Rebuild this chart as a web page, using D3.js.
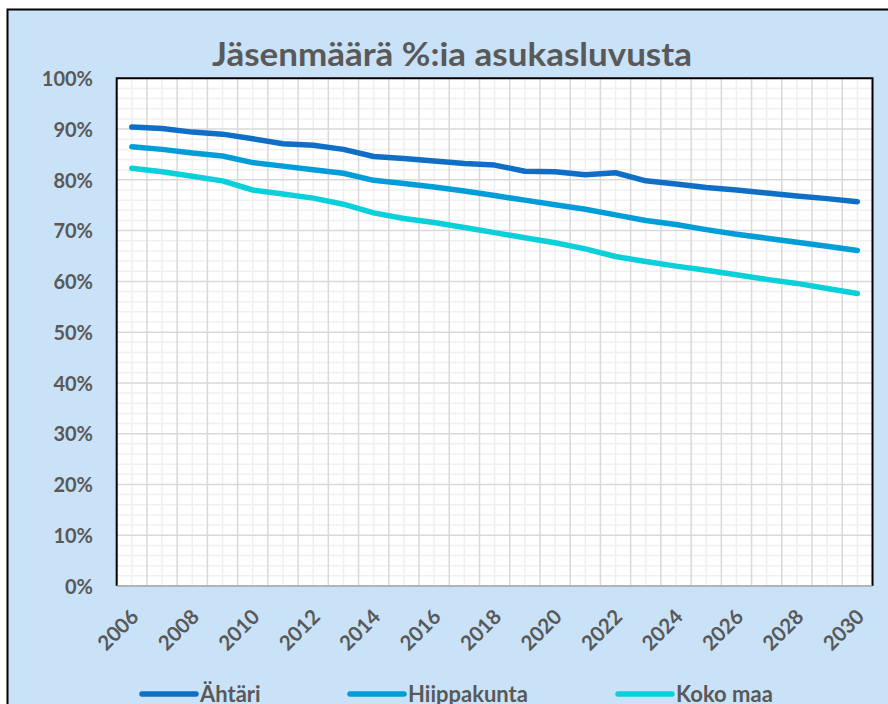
<!DOCTYPE html>
<html>
<head>
<meta charset="utf-8">
<script src="https://cdn.jsdelivr.net/npm/d3@7"></script>
<style>
  body { margin: 0; background: #ffffff; }
  svg text { font-family: Lato, "Open Sans", sans-serif; font-weight: bold; fill: #595959; }
</style>
</head>
<body>
<div id="chart"></div>
<script>

// data (share of population, %)
var years = [2006, 2007, 2008, 2009, 2010, 2011, 2012, 2013, 2014, 2015, 2016, 2017, 2018,
             2019, 2020, 2021, 2022, 2023, 2024, 2025, 2026, 2027, 2028, 2029, 2030];

var ahtari = [90.4, 90.1, 89.4, 89.0, 88.1, 87.1, 86.8, 86.0, 84.6, 84.2, 83.7, 83.2, 82.9,
              81.7, 81.6, 81.0, 81.4, 79.8, 79.2, 78.5, 78.0, 77.4, 76.8, 76.3, 75.7];

var hiippakunta = [86.5, 86.0, 85.3, 84.7, 83.4, 82.7, 82.0, 81.3, 79.9, 79.3, 78.6, 77.8, 76.9,
                   76.0, 75.1, 74.2, 73.1, 72.0, 71.2, 70.2, 69.3, 68.5, 67.7, 66.9, 66.1];

var kokoMaa = [82.3, 81.6, 80.7, 79.8, 78.0, 77.2, 76.4, 75.2, 73.5, 72.4, 71.6, 70.6, 69.6,
               68.6, 67.6, 66.4, 64.9, 63.9, 63.0, 62.2, 61.3, 60.4, 59.6, 58.6, 57.6];

var seriesNames = ["Ähtäri", "Hiippakunta", "Koko maa"];
var seriesColors = ["#0f6fc6", "#009dd9", "#0bd0d9"];
var yTicks = [0, 10, 20, 30, 40, 50, 60, 70, 80, 90, 100];
var xLabels = [2006, 2008, 2010, 2012, 2014, 2016, 2018, 2020, 2022, 2024, 2026, 2028, 2030];
var title = "Jäsenmäärä %:ia asukasluvusta";

var width = 888;
var height = 704;
var plot = { left: 116.7, top: 78.3, right: 872.5, bottom: 586 };

var svg = d3.select("#chart")
    .append("svg")
    .attr("width", width)
    .attr("height", height);

// outer chart area (runs past the right and bottom edge)
svg.append("rect")
    .attr("x", 7.5).attr("y", 9.5)
    .attr("width", 900).attr("height", 720)
    .attr("fill", "#c9e2f8")
    .attr("stroke", "#000").attr("stroke-width", 2);

var x = d3.scaleBand().domain(years).range([plot.left, plot.right]);
var y = d3.scaleLinear().domain([0, 100]).range([plot.bottom, plot.top]);
var cx = function(yr) { return x(yr) + x.bandwidth() / 2; };

// plot area
svg.append("rect")
    .attr("x", plot.left).attr("y", plot.top)
    .attr("width", plot.right - plot.left).attr("height", plot.bottom - plot.top)
    .attr("fill", "#fff");

var grid = svg.append("g");

// minor grid
var minorY = d3.range(0, 101, 2).filter(function(v) { return v % 10 != 0; });
grid.selectAll(".minor-h").data(minorY).enter().append("line")
    .attr("x1", plot.left).attr("x2", plot.right)
    .attr("y1", function(d) { return y(d); }).attr("y2", function(d) { return y(d); })
    .attr("stroke", "#f0f0f0").attr("stroke-width", 1.5);
grid.selectAll(".minor-v").data(years).enter().append("line")
    .attr("x1", cx).attr("x2", cx)
    .attr("y1", plot.top).attr("y2", plot.bottom)
    .attr("stroke", "#f0f0f0").attr("stroke-width", 1.5);

// major grid
grid.selectAll(".major-h").data(yTicks).enter().append("line")
    .attr("x1", plot.left).attr("x2", plot.right)
    .attr("y1", function(d) { return y(d); }).attr("y2", function(d) { return y(d); })
    .attr("stroke", "#d9d9d9").attr("stroke-width", 1.5);
grid.selectAll(".major-v").data(years.slice(1)).enter().append("line")
    .attr("x1", function(d) { return x(d); }).attr("x2", function(d) { return x(d); })
    .attr("y1", plot.top).attr("y2", plot.bottom)
    .attr("stroke", "#d9d9d9").attr("stroke-width", 1.5);

// plot border: black left/top/right, grey axis line at the bottom
svg.append("path")
    .attr("d", "M" + plot.left + "," + plot.bottom + "V" + plot.top + "H" + plot.right + "V" + plot.bottom)
    .attr("fill", "none").attr("stroke", "#000").attr("stroke-width", 2);
svg.append("line")
    .attr("x1", plot.left).attr("x2", plot.right)
    .attr("y1", plot.bottom).attr("y2", plot.bottom)
    .attr("stroke", "#a6a6a6").attr("stroke-width", 1.5);

// lines
var allSeries = [ahtari, hiippakunta, kokoMaa];
var line = d3.line()
    .x(function(d, i) { return cx(years[i]); })
    .y(function(d) { return y(d); });

svg.selectAll(".series").data(allSeries).enter().append("path")
    .attr("d", line)
    .attr("fill", "none")
    .attr("stroke", function(d, i) { return seriesColors[i]; })
    .attr("stroke-width", 5.5)
    .attr("stroke-linecap", "round")
    .attr("stroke-linejoin", "round");

// y axis labels
var yAxis = d3.axisLeft(y).tickValues(yTicks).tickSize(0).tickPadding(0)
    .tickFormat(function(d) { return d + "%"; });
var gy = svg.append("g").attr("transform", "translate(93,0)").call(yAxis);
gy.select(".domain").remove();
gy.selectAll("text").attr("font-size", 20).attr("dy", "0.36em").style("font-family", null);

// x axis labels
var xAxis = d3.axisBottom(x).tickValues(xLabels).tickSize(0).tickPadding(0);
var gx = svg.append("g").attr("transform", "translate(0," + plot.bottom + ")").call(xAxis);
gx.select(".domain").remove();
gx.selectAll("text")
    .attr("font-size", 20.5)
    .attr("text-anchor", "end")
    .attr("y", 0).attr("dy", "0.35em")
    .attr("transform", "translate(3,27) rotate(-45)")
    .style("font-family", null);

// title
svg.append("text")
    .attr("x", 452).attr("y", 66)
    .attr("text-anchor", "middle")
    .attr("font-size", 32)
    .attr("textLength", 480)
    .attr("lengthAdjust", "spacingAndGlyphs")
    .text(title);

// legend
var legendX = [142, 350, 618];
var legend = svg.selectAll(".legend").data(seriesNames).enter().append("g")
    .attr("transform", function(d, i) { return "translate(" + legendX[i] + ",694)"; });
legend.append("line")
    .attr("x1", 0).attr("x2", 54)
    .attr("stroke", function(d, i) { return seriesColors[i]; })
    .attr("stroke-width", 5.5)
    .attr("stroke-linecap", "round");
legend.append("text")
    .attr("x", 58).attr("dy", "0.35em")
    .attr("font-size", 22)
    .text(function(d) { return d; });

</script>
</body>
</html>
